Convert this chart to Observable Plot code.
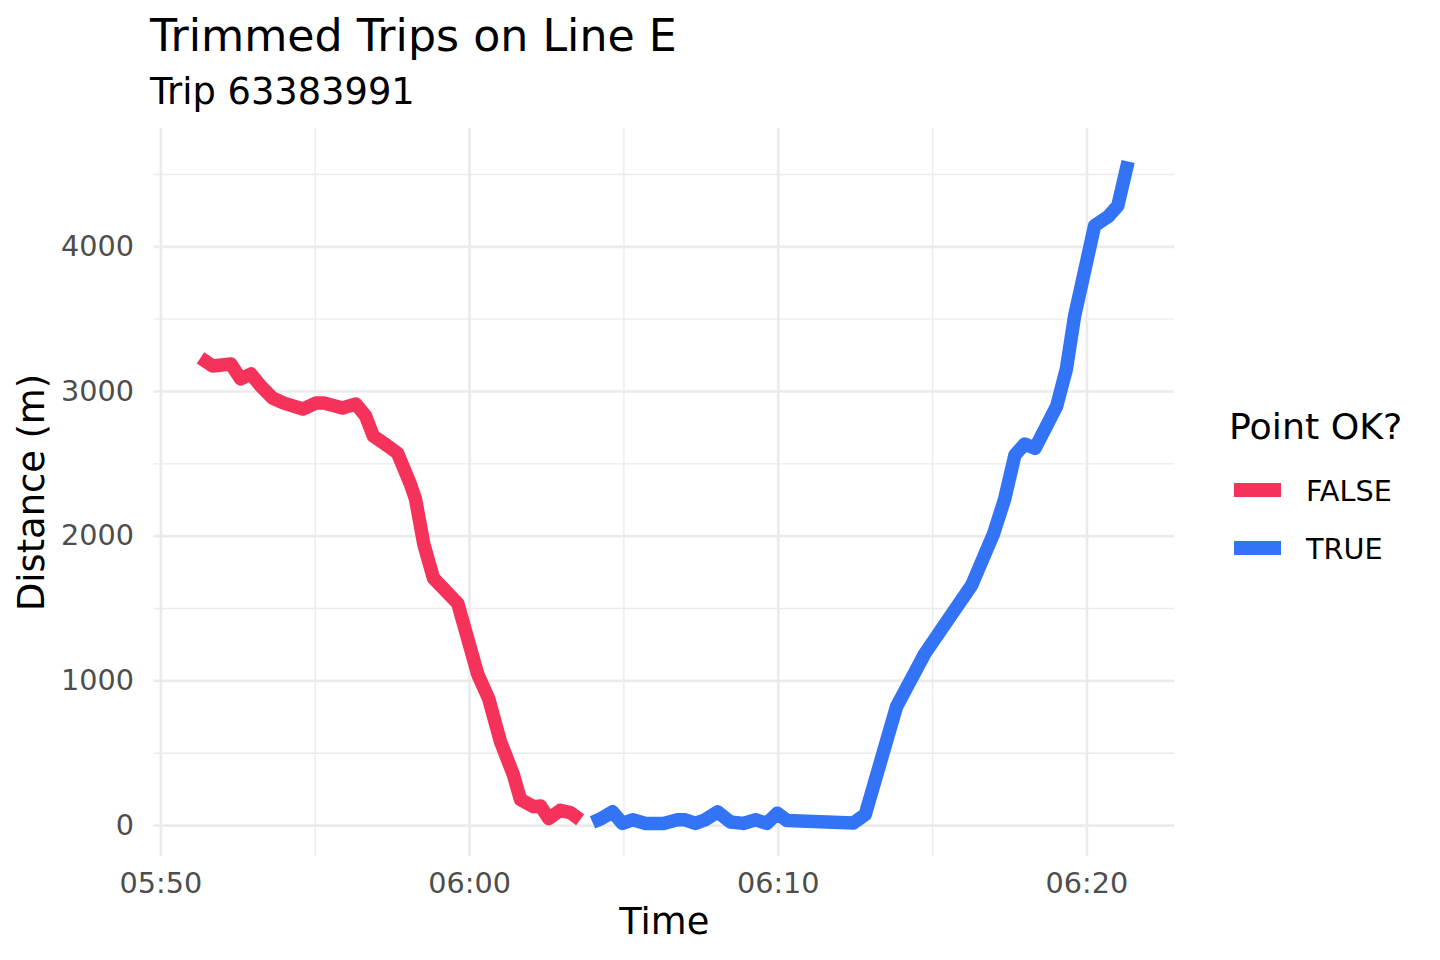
<!DOCTYPE html>
<html>
<head>
<meta charset="utf-8">
<script src="https://cdn.jsdelivr.net/npm/d3@7"></script>
<script src="https://cdn.jsdelivr.net/npm/@observablehq/plot@0.6"></script>
<style>
  body { margin: 0; width: 1440px; height: 960px; position: relative; background: #fff; overflow: hidden;
         font-family: "DejaVu Sans", sans-serif; }
  .txt { position: absolute; white-space: nowrap; line-height: normal; color: #000; }
  .key { position: absolute; width: 47px; height: 14px; }
  #chart { position: absolute; left: 0; top: 115px; }
  #legend { position: absolute; left: 0; top: 0; z-index: 2; }
</style>
</head>
<body>
<div class="txt" style="left:150px; top:10px; font-size:44.3px;">Trimmed Trips on Line E</div>
<div class="txt" style="left:150px; top:70px; font-size:36.8px;">Trip 63383991</div>
<div id="chart"></div>
<div id="legend"></div>
<script>
// GPS points of the trip, split by whether the point passed the check
const falseTimes = [
  "05:51:17", "05:51:41", "05:52:16", "05:52:35", "05:52:55", "05:53:14", "05:53:37", "05:53:59",
  "05:54:36", "05:55:01", "05:55:17", "05:55:53", "05:56:19", "05:56:38", "05:56:53", "05:57:21",
  "05:57:40", "05:58:05", "05:58:15", "05:58:31", "05:58:50", "05:59:37", "06:00:16", "06:00:37",
  "06:01:00", "06:01:25", "06:01:39", "06:02:04", "06:02:18", "06:02:34", "06:02:56", "06:03:16",
  "06:03:35"
];
const falseDistance = [
  3232, 3176, 3190, 3087, 3121, 3038, 2955, 2920,
  2879, 2920, 2920, 2886, 2913, 2830, 2692, 2623,
  2574, 2360, 2256, 1945, 1709, 1536, 1045, 879,
  581, 353, 180, 131, 135, 48, 105, 90,
  40
];
const trueTimes = [
  "06:03:59", "06:04:14", "06:04:38", "06:04:57", "06:05:17", "06:05:42", "06:06:17", "06:06:44",
  "06:06:59", "06:07:19", "06:07:38", "06:08:02", "06:08:27", "06:08:52", "06:09:16", "06:09:38",
  "06:09:58", "06:10:17", "06:12:26", "06:12:49", "06:13:50", "06:14:45", "06:16:16", "06:16:58",
  "06:17:20", "06:17:40", "06:17:59", "06:18:19", "06:19:01", "06:19:20", "06:19:36", "06:20:15",
  "06:20:41", "06:21:00", "06:21:20"
];
const trueDistance = [
  22, 45, 95, 15, 40, 15, 15, 40,
  40, 15, 40, 95, 25, 15, 40, 15,
  85, 35, 18, 76, 823, 1189, 1662, 2012,
  2256, 2561, 2637, 2607, 2897, 3156, 3522, 4147,
  4208, 4284, 4589
];

const okLevels = ["FALSE", "TRUE"];
const okColors = ["#F5325A", "#3373F5"];

const xMajorTicks = ["05:50", "06:00", "06:10", "06:20"];
const xMinorTicks = ["05:55", "06:05", "06:15"];
const yMajorTicks = [0, 1000, 2000, 3000, 4000];
const yMinorTicks = [500, 1500, 2500, 3500, 4500];

const parseTime = d3.utcParse("%H:%M:%S");
const parseTick = d3.utcParse("%H:%M");

const rows = [
  ...falseTimes.map((t, i) => ({time: parseTime(t), dist: falseDistance[i], ok: "FALSE"})),
  ...trueTimes.map((t, i) => ({time: parseTime(t), dist: trueDistance[i], ok: "TRUE"}))
];

// ggplot-style 5% expansion on both axes
const expand = (ext) => {
  const pad = (ext[1] - ext[0]) * 0.05;
  return [+ext[0] - pad, +ext[1] + pad];
};
const xDomain = expand(d3.extent(rows, d => d.time)).map(v => new Date(v));
const yDomain = expand(d3.extent(rows, d => d.dist));

const xMajor = xMajorTicks.map(parseTick);
const xMinor = xMinorTicks.map(parseTick);

const grid = {stroke: "#EBEBEB", strokeOpacity: 1};

const chart = Plot.plot({
  width: 1440,
  height: 845,
  marginTop: 13,
  marginBottom: 104,
  marginLeft: 153.6,
  marginRight: 266,
  style: {fontFamily: '"DejaVu Sans", sans-serif', background: "#fff"},
  x: {type: "utc", domain: xDomain, axis: null},
  y: {domain: yDomain, axis: null},
  color: {domain: okLevels, range: okColors},
  marks: [
    Plot.gridX(xMinor, {...grid, strokeWidth: 1.4}),
    Plot.gridY(yMinorTicks, {...grid, strokeWidth: 1.4}),
    Plot.gridX(xMajor, {...grid, strokeWidth: 2.7}),
    Plot.gridY(yMajorTicks, {...grid, strokeWidth: 2.7}),
    Plot.axisX(xMajor, {
      tickSize: 0, tickPadding: 16.6, fontSize: 28.7, fill: "#4D4D4D",
      tickFormat: d3.utcFormat("%H:%M"), label: null
    }),
    Plot.axisY(yMajorTicks, {
      tickSize: 0, tickPadding: 20, fontSize: 28.7, fill: "#4D4D4D",
      tickFormat: d => String(d), label: null
    }),
    Plot.line(rows, {
      x: "time", y: "dist", z: "ok", stroke: "ok",
      strokeWidth: 13.5, strokeLinejoin: "round", strokeLinecap: "butt"
    }),
    Plot.text(["Time"], {frameAnchor: "bottom", dy: 77.5, fontSize: 36.8, fill: "#000", text: d => d}),
    Plot.text(["Distance (m)"], {
      frameAnchor: "left", textAnchor: "middle", dx: -122, rotate: -90,
      fontSize: 36.8, fill: "#000", text: d => d
    })
  ]
});
document.getElementById("chart").append(chart);

// legend to the right of the panel
const legend = document.getElementById("legend");
let html = `<div class="txt" style="left:1229px; top:405px; font-size:36.3px;">Point OK?</div>`;
okLevels.forEach((lvl, i) => {
  const keyTop = 483 + i * 58;
  html +=
    `<div class="key" style="left:1234px; top:${keyTop}px; background:${okColors[i]};"></div>` +
    `<div class="txt" style="left:1306px; top:${keyTop - 9.5}px; font-size:28.7px;">${lvl}</div>`;
});
legend.innerHTML = html;
</script>
</body>
</html>
